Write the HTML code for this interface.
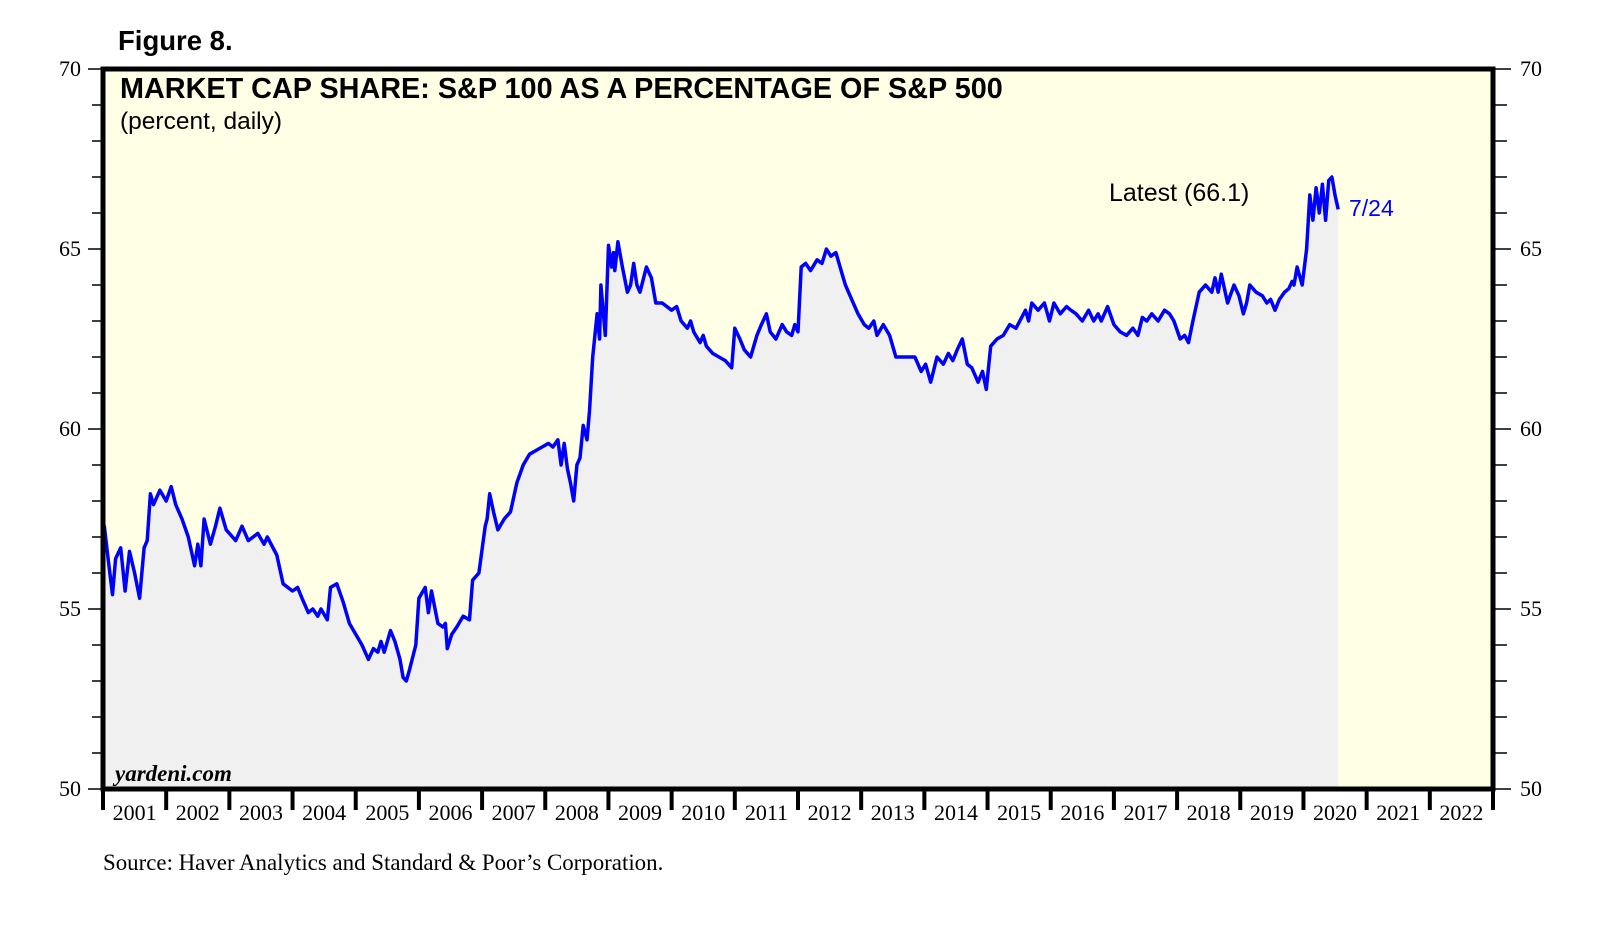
<!DOCTYPE html>
<html><head><meta charset="utf-8"><style>
html,body{margin:0;padding:0;background:#fff;}
svg{display:block;}
</style></head><body>
<svg id="chart" width="1617" height="925" viewBox="0 0 1617 925" xmlns="http://www.w3.org/2000/svg">
<rect x="103" y="69" width="1390" height="720" fill="#ffffe6"/>
<g id="marks"></g>
<g id="axes"></g>
<rect x="103" y="69" width="1390" height="720" fill="none" stroke="#000" stroke-width="5"/>
<text x="118" y="50" font-family="Liberation Sans, sans-serif" font-weight="bold" font-size="27.5">Figure 8.</text>
<text x="120" y="98" font-family="Liberation Sans, sans-serif" font-weight="bold" font-size="28.8">MARKET CAP SHARE: S&amp;P 100 AS A PERCENTAGE OF S&amp;P 500</text>
<text x="120" y="129" font-family="Liberation Sans, sans-serif" font-size="24.5">(percent, daily)</text>
<text x="1109" y="201" font-family="Liberation Sans, sans-serif" font-size="25">Latest (66.1)</text>
<text x="1349" y="216" font-family="Liberation Sans, sans-serif" font-size="23" fill="#0000ff">7/24</text>
<text x="115" y="781" font-family="Liberation Serif, serif" font-weight="bold" font-style="italic" font-size="23">yardeni.com</text>
<text x="103" y="870" font-family="Liberation Serif, serif" font-size="22.9">Source: Haver Analytics and Standard &amp; Poor’s Corporation.</text>
</svg>
<script>
const dates=[2001.0,2001.02,2001.08,2001.15,2001.2,2001.28,2001.35,2001.42,2001.5,2001.58,2001.65,2001.7,2001.75,2001.8,2001.9,2002.0,2002.08,2002.15,2002.25,2002.35,2002.45,2002.5,2002.55,2002.6,2002.7,2002.78,2002.85,2002.95,2003.1,2003.2,2003.3,2003.45,2003.55,2003.6,2003.75,2003.85,2004.0,2004.08,2004.15,2004.25,2004.32,2004.4,2004.45,2004.55,2004.6,2004.7,2004.8,2004.9,2005.0,2005.1,2005.2,2005.28,2005.35,2005.4,2005.45,2005.55,2005.62,2005.7,2005.75,2005.8,2005.85,2005.95,2006.0,2006.1,2006.15,2006.2,2006.3,2006.38,2006.42,2006.45,2006.52,2006.6,2006.7,2006.8,2006.85,2006.95,2007.05,2007.08,2007.12,2007.18,2007.25,2007.35,2007.45,2007.55,2007.65,2007.75,2007.85,2007.95,2008.05,2008.12,2008.2,2008.25,2008.3,2008.35,2008.4,2008.45,2008.5,2008.55,2008.6,2008.66,2008.7,2008.75,2008.82,2008.86,2008.88,2008.95,2009.0,2009.05,2009.08,2009.1,2009.15,2009.22,2009.3,2009.35,2009.4,2009.45,2009.5,2009.6,2009.68,2009.75,2009.85,2010.0,2010.08,2010.15,2010.25,2010.3,2010.35,2010.45,2010.5,2010.55,2010.65,2010.75,2010.85,2010.95,2011.0,2011.08,2011.15,2011.25,2011.35,2011.42,2011.5,2011.56,2011.65,2011.75,2011.82,2011.9,2011.95,2012.0,2012.05,2012.12,2012.2,2012.3,2012.38,2012.45,2012.52,2012.6,2012.7,2012.75,2012.85,2012.95,2013.05,2013.12,2013.2,2013.25,2013.35,2013.45,2013.55,2013.7,2013.85,2013.95,2014.02,2014.1,2014.2,2014.3,2014.38,2014.45,2014.52,2014.6,2014.68,2014.75,2014.85,2014.92,2014.98,2015.05,2015.15,2015.25,2015.35,2015.45,2015.6,2015.65,2015.7,2015.8,2015.9,2015.98,2016.05,2016.15,2016.25,2016.32,2016.4,2016.5,2016.6,2016.68,2016.75,2016.8,2016.9,2017.0,2017.1,2017.2,2017.3,2017.38,2017.45,2017.52,2017.6,2017.7,2017.8,2017.88,2017.95,2018.05,2018.12,2018.18,2018.25,2018.35,2018.45,2018.55,2018.6,2018.65,2018.7,2018.8,2018.9,2018.98,2019.05,2019.1,2019.15,2019.25,2019.35,2019.42,2019.48,2019.55,2019.62,2019.7,2019.77,2019.82,2019.85,2019.9,2019.98,2020.05,2020.1,2020.15,2020.2,2020.25,2020.3,2020.35,2020.4,2020.45,2020.5,2020.55,2020.58];
const values=[56.5,57.3,56.4,55.4,56.4,56.7,55.5,56.6,56.0,55.3,56.7,56.9,58.2,57.9,58.3,58.0,58.4,57.9,57.5,57.0,56.2,56.8,56.2,57.5,56.8,57.3,57.8,57.2,56.9,57.3,56.9,57.1,56.8,57.0,56.5,55.7,55.5,55.6,55.3,54.9,55.0,54.8,55.0,54.7,55.6,55.7,55.2,54.6,54.3,54.0,53.6,53.9,53.8,54.1,53.8,54.4,54.1,53.6,53.1,53.0,53.3,54.0,55.3,55.6,54.9,55.5,54.6,54.5,54.6,53.9,54.3,54.5,54.8,54.7,55.8,56.0,57.3,57.5,58.2,57.7,57.2,57.5,57.7,58.5,59.0,59.3,59.4,59.5,59.6,59.5,59.7,59.0,59.6,58.9,58.5,58.0,59.0,59.2,60.1,59.7,60.5,62.0,63.2,62.5,64.0,62.6,65.1,64.5,64.9,64.4,65.2,64.5,63.8,64.0,64.6,64.0,63.8,64.5,64.2,63.5,63.5,63.3,63.4,63.0,62.8,63.0,62.7,62.4,62.6,62.3,62.1,62.0,61.9,61.7,62.8,62.5,62.2,62.0,62.6,62.9,63.2,62.7,62.5,62.9,62.7,62.6,62.9,62.7,64.5,64.6,64.4,64.7,64.6,65.0,64.8,64.9,64.3,64.0,63.6,63.2,62.9,62.8,63.0,62.6,62.9,62.6,62.0,62.0,62.0,61.6,61.8,61.3,62.0,61.8,62.1,61.9,62.2,62.5,61.8,61.7,61.3,61.6,61.1,62.3,62.5,62.6,62.9,62.8,63.3,63.0,63.5,63.3,63.5,63.0,63.5,63.2,63.4,63.3,63.2,63.0,63.3,63.0,63.2,63.0,63.4,62.9,62.7,62.6,62.8,62.6,63.1,63.0,63.2,63.0,63.3,63.2,63.0,62.5,62.6,62.4,63.0,63.8,64.0,63.8,64.2,63.8,64.3,63.5,64.0,63.7,63.2,63.5,64.0,63.8,63.7,63.5,63.6,63.3,63.6,63.8,63.9,64.1,64.0,64.5,64.0,65.0,66.5,65.8,66.7,66.0,66.8,65.8,66.9,67.0,66.5,66.1];
const yTicks=[50,55,60,65,70];
const years=[2001,2002,2003,2004,2005,2006,2007,2008,2009,2010,2011,2012,2013,2014,2015,2016,2017,2018,2019,2020,2021,2022];
const NS="http://www.w3.org/2000/svg";
const X0=103,X1=1493,Y0=789,Y1=69,xMin=2001,xMax=2023,yMin=50,yMax=70;
function xs(d){return X0+(d-xMin)/(xMax-xMin)*(X1-X0);}
function ys(v){return Y0-(v-yMin)/(yMax-yMin)*(Y0-Y1);}
function mk(tag,attrs,parent){const e=document.createElementNS(NS,tag);for(const k in attrs)e.setAttribute(k,attrs[k]);parent.appendChild(e);return e;}
const marks=document.getElementById('marks'),axes=document.getElementById('axes');
const n=Math.min(dates.length,values.length);
const P=[];
for(let i=0;i<n;i++){const x=xs(dates[i]),y=ys(values[i]);if(isFinite(x)&&isFinite(y))P.push([x,y]);}
let dLine='M'+P.map(p=>p[0].toFixed(1)+' '+p[1].toFixed(1)).join(' L');
let dArea='M'+P[0][0].toFixed(1)+' '+Y0+' L'+P.map(p=>p[0].toFixed(1)+' '+p[1].toFixed(1)).join(' L')+' L'+P[P.length-1][0].toFixed(1)+' '+Y0+' Z';
const area=mk('path',{d:dArea,fill:'#f0f0f0',stroke:'none'},marks);


const line=mk('path',{d:dLine,fill:'none',stroke:'#0000ff','stroke-width':3.5,'stroke-linejoin':'round'},marks);


for(let v=yMin;v<=yMax;v++){
  const major=yTicks.includes(v);const y=ys(v);
  const tl=mk('line',{x1:major?88:92,x2:X0,y1:y,y2:y,stroke:'#000','stroke-width':1.5},axes);
  
  
  const tr=mk('line',{x1:X1,x2:major?1511:1507,y1:y,y2:y,stroke:'#000','stroke-width':1.5},axes);
  
  
}
yTicks.forEach(v=>{
  const l=mk('text',{x:81,y:ys(v)+7,'text-anchor':'end','font-family':'Liberation Serif, serif','font-size':22},axes);l.textContent=v;
  
  
  const r=mk('text',{x:1520,y:ys(v)+7,'font-family':'Liberation Serif, serif','font-size':22},axes);r.textContent=v;
  
  
});
for(let i=0;i<=years.length;i++){
  const x=xs(xMin+i);
  const t=mk('line',{x1:x,x2:x,y1:Y0,y2:810,stroke:'#000','stroke-width':4},axes);
  
  
}
years.forEach(yr=>{
  const t=mk('text',{x:xs(yr+0.5),y:820,'text-anchor':'middle','font-family':'Liberation Serif, serif','font-size':22},axes);t.textContent=yr;
  
  
});
</script>
</body></html>
